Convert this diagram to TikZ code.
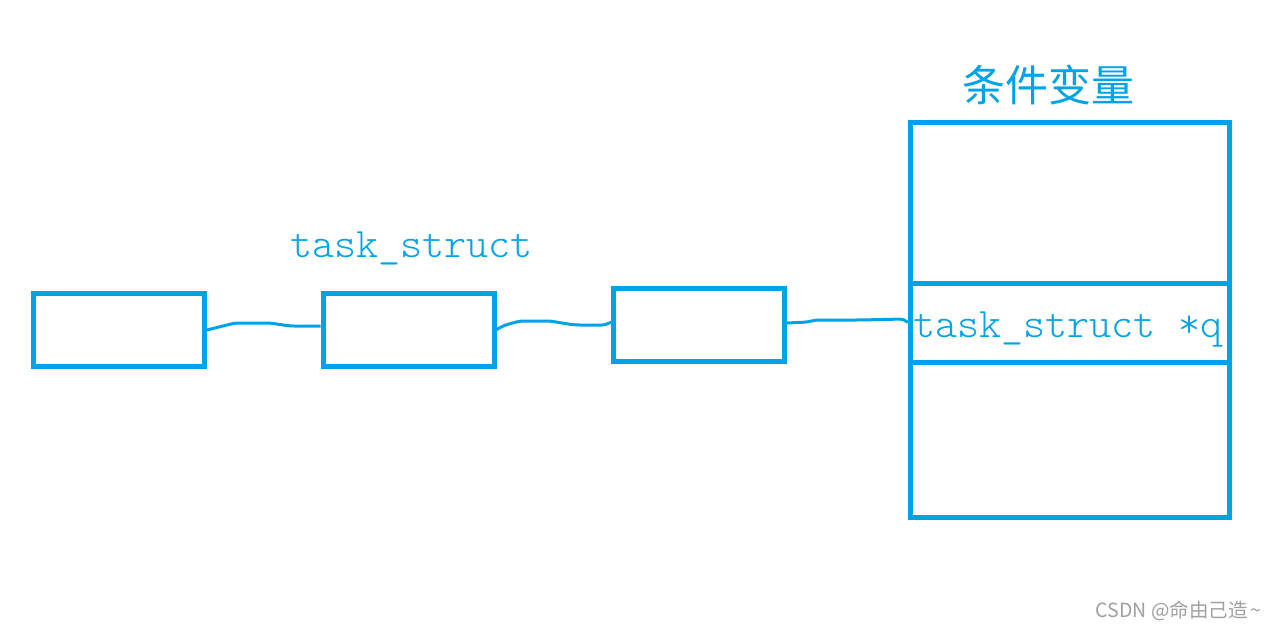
\documentclass[tikz,border=0pt]{standalone}
\usepackage{fontspec}
\usepackage{xcolor}
\usepackage{tikz}
\usetikzlibrary{positioning}
\newfontfamily\cjkfont{Noto Sans CJK SC}
\newfontfamily\thinmono{Latin Modern Mono Light}
\definecolor{paintblue}{HTML}{00A2E8}
\definecolor{markgray}{HTML}{A0A0A0}

\tikzset{
  taskbox/.style={draw=paintblue,line width=5pt,minimum width=171pt,minimum height=73pt,inner sep=0pt},
  cellbox/.style={draw=paintblue,line width=5pt,minimum width=319pt,inner sep=0pt},
  wire/.style={paintblue,line width=3pt,rounded corners=4pt},
  codetext/.style={text=paintblue,font=\thinmono\fontsize{42}{42}\selectfont,inner sep=0pt}
}

\begin{document}
\begin{tikzpicture}[x=1pt,y=-1pt]
  \useasboundingbox[fill=white] (0,0) rectangle (1274,629);
  % wait queue of tasks
  \node[taskbox] (t1) at (119,330) {};
  \node[taskbox] (t2) at (408.5,329.5) {};
  \node[taskbox] (t3) at (699,325) {};
  \node[codetext,anchor=base] (tname) at (411.5,257) {task\_struct};
  % condition variable
  \node[cellbox,minimum height=161pt] (cvtop) at (1069.75,202.5) {};
  \node[cellbox,minimum height=79pt] (cvmid) at (1069.75,322.5) {};
  \node[cellbox,minimum height=155pt] (cvbot) at (1069.75,439.5) {};
  \node[text=paintblue,font=\cjkfont\fontsize{43}{43}\selectfont,inner sep=0pt] (cvname) at (1048,85) {条件变量};
  \node[codetext,anchor=base] (qptr) at ([xshift=-2pt,yshift=-14.5pt]cvmid.center) {task\_struct *q};
  % hand drawn links
  \draw[wire] (t1.east) -- (215,328) -- (235,323) -- (270,323) -- (290,326) -- ([yshift=3.5pt]t2.west);
  \draw[wire] (t2.east) -- (505,325) -- (520,321) -- (550,321) -- (568,324) -- (576,325) -- (606,325) -- ([yshift=3pt]t3.west);
  \draw[wire] ([yshift=2pt]t3.east) -- (808,322) -- (815,320) -- (860,320) -- (904,319) -- (cvmid.west);
  % watermark
  \node[text=markgray,font=\cjkfont\fontsize{19.5}{19.5}\selectfont,inner sep=0pt,anchor=base east] (mark) at (1262,617) {CSDN @命由己造\,\textasciitilde};
\end{tikzpicture}
\end{document}
